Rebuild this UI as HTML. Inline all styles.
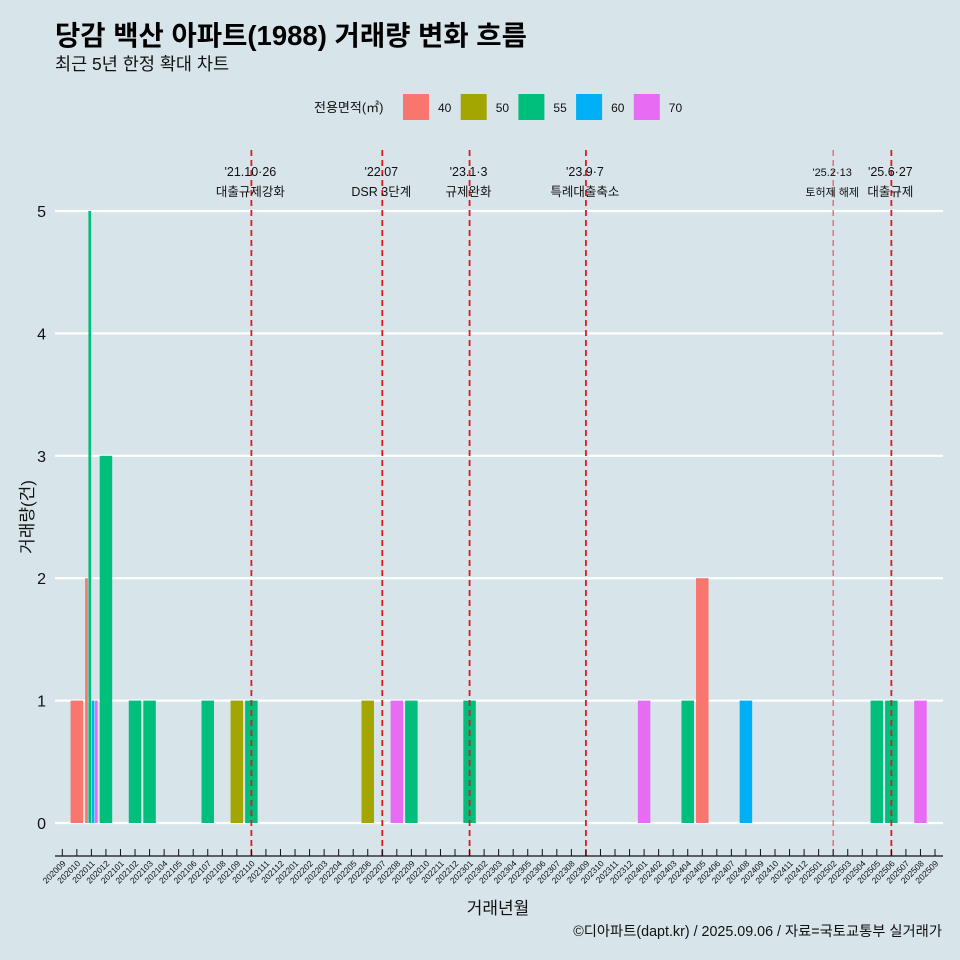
<!DOCTYPE html>
<html><head><meta charset="utf-8"><style>
body{margin:0;background:#d7e4ea;}
svg{display:block;font-family:"Liberation Sans","Noto Sans CJK KR",sans-serif;}
</style></head><body>
<svg id="c" width="960" height="960" viewBox="0 0 960 960">
<rect width="960" height="960" fill="#d7e4ea"/>
<text x="55" y="45" font-size="27.5" font-weight="bold" fill="#000">당감 백산 아파트(1988) 거래량 변화 흐름</text>
<text x="55" y="70" font-size="17.5" fill="#111">최근 5년 한정 확대 차트</text>
<text x="314" y="112" font-size="13" fill="#111">전용면적(㎡)</text>
<g id="legend"></g>
<g id="grid"></g>
<g id="bars"></g>
<g id="events"></g>
<g id="xaxis"></g>
<text x="498" y="914" font-size="17" text-anchor="middle" fill="#111">거래년월</text>
<text transform="translate(33,517) rotate(-90)" font-size="17" text-anchor="middle" fill="#111">거래량(건)</text>
<text x="942" y="936" font-size="14.3" text-anchor="end" fill="#111">©디아파트(dapt.kr) / 2025.09.06 / 자료=국토교통부 실거래가</text>
</svg>
<script>
const months=[];for(let y=2020,m=9;!(y===2025&&m===10);){months.push(''+y+(m<10?'0':'')+m);m++;if(m>12){m=1;y++;}}
const sizes=['40','50','55','60','70'];
const colors=['#f8766d','#a3a500','#00bf7d','#00b0f6','#e76bf3'];
const yTicks=[0,1,2,3,4,5];
const barMonths=['202010','202011','202011','202011','202011','202012','202102','202103','202107','202109','202110','202206','202208','202209','202301','202401','202404','202405','202408','202505','202506','202508'];
const barSizes=['40','40','55','60','70','55','55','55','55','50','55','50','70','55','55','70','55','40','60','55','55','70'];
const barCounts=[1,2,5,1,1,3,1,1,1,1,1,1,1,1,1,1,1,2,1,1,1,1];
const eventMonths=['202110','202207','202301','202309','202502','202506'];
const eventLine1=["'21.10·26","'22.07","'23.1·3","'23.9·7","'25.2·13","'25.6·27"];
const eventLine2=["대출규제강화","DSR 3단계","규제완화","특례대출축소","토허제 해제","대출규제"];
const NS='http://www.w3.org/2000/svg';
function el(t,a,p){const e=document.createElementNS(NS,t);for(const k in a)e.setAttribute(k,a[k]);p.appendChild(e);return e;}
const x=i=>62.3+i*14.545, y=v=>823-v*122.4;
const xm=m=>x(months.indexOf(m));
const W=13.1;
const g=document.getElementById('grid');
yTicks.forEach(v=>{
 const l=el('line',{x1:55,x2:943,y1:y(v),y2:y(v),stroke:'#fff','stroke-width':2.2},g);
 
 
 const t=el('text',{x:46,y:y(v)+6,'font-size':16,'text-anchor':'end',fill:'#111'},g);t.textContent=v;
 
 
});
const lg=document.getElementById('legend');
sizes.forEach((s,i)=>{
 const lx=403+i*57.7;
 const r=el('rect',{x:lx,y:94,width:26,height:26,fill:colors[i]},lg);
 
 
 const t=el('text',{x:lx+35,y:112,'font-size':12,fill:'#111'},lg);t.textContent=s;
 
 
});
const bg=document.getElementById('bars');
barMonths.forEach((m,i)=>{
 const grp=barMonths.map((mm,j)=>mm===m?j:-1).filter(j=>j>=0);
 const n=grp.length,k=grp.indexOf(i),w=W/n;
 const x0=xm(m)-W/2+k*w;
 const r=el('rect',{x:x0+0.3,y:y(barCounts[i]),width:w-0.6,height:y(0)-y(barCounts[i]),fill:colors[sizes.indexOf(barSizes[i])]},bg);
 
 
});
const eg=document.getElementById('events');
eventMonths.forEach((m,i)=>{
 const light=m==='202502';
 const l=el('line',{x1:xm(m),x2:xm(m),y1:150,y2:856,stroke:light?'#e8575a':'#e31a1c','stroke-width':light?1.2:1.8,'stroke-dasharray':'6,4'},eg);
 
 
 const fs=light?11:12.5;
 const t1=el('text',{x:xm(m)-1,y:176,'font-size':fs,'text-anchor':'middle',fill:'#111'},eg);t1.textContent=eventLine1[i];
 
 
 const t2=el('text',{x:xm(m)-1,y:196,'font-size':fs,'text-anchor':'middle',fill:'#111'},eg);t2.textContent=eventLine2[i];
 
 
});
const xg=document.getElementById('xaxis');
const ax=el('line',{x1:55,x2:943,y1:856,y2:856,stroke:'#111','stroke-width':1.2},xg);


months.forEach((m,i)=>{
 const tk=el('line',{x1:x(i),x2:x(i),y1:849,y2:856,stroke:'#111','stroke-width':1},xg);
 
 
 const t=el('text',{transform:`translate(${x(i)+4},${864}) rotate(-45)`,'font-size':8.5,'text-anchor':'end',fill:'#111'},xg);t.textContent=m;
 
 
});
</script>
</body></html>
